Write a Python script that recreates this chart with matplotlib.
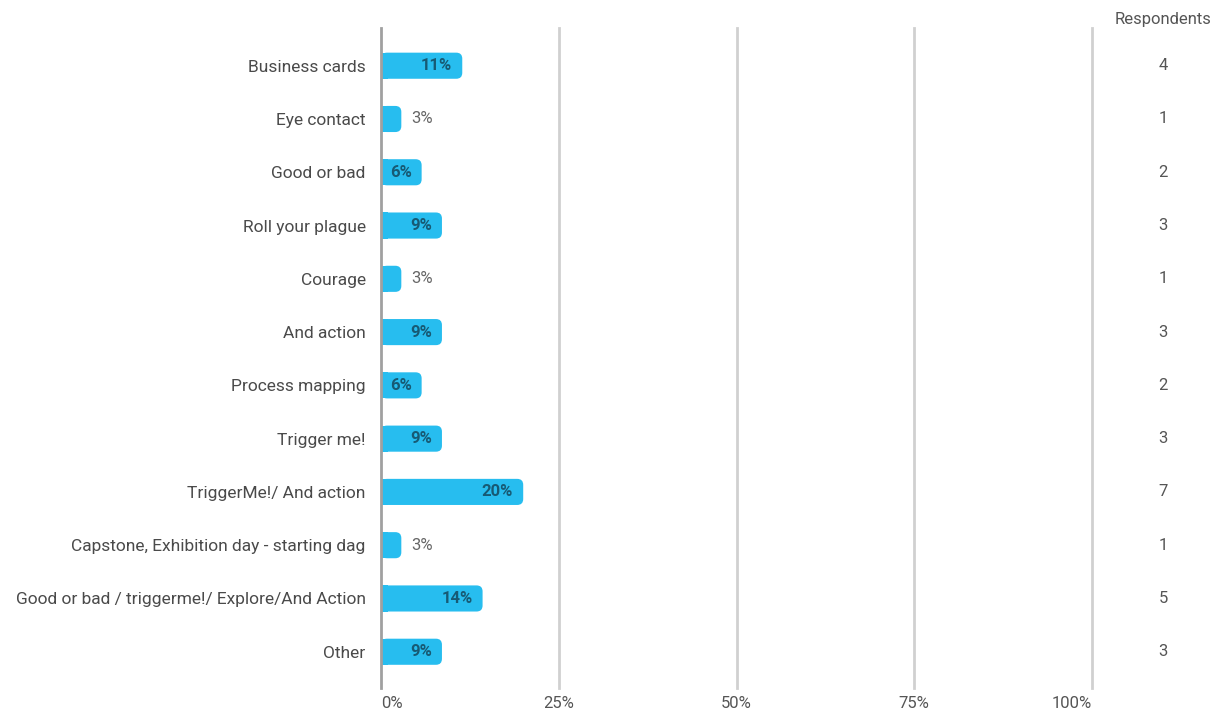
import matplotlib
matplotlib.use('Agg')
import matplotlib.pyplot as plt
from matplotlib.patches import FancyBboxPatch, Rectangle
from matplotlib.ticker import FuncFormatter

plt.rcParams['font.family'] = ['Roboto', 'DejaVu Sans']

# survey answers
categories = [
    'Business cards', 'Eye contact', 'Good or bad', 'Roll your plague',
    'Courage', 'And action', 'Process mapping', 'Trigger me!',
    'TriggerMe!/ And action', 'Capstone, Exhibition day - starting dag',
    'Good or bad / triggerme!/ Explore/And Action', 'Other',
]
respondents = [4, 1, 2, 3, 1, 3, 2, 3, 7, 1, 5, 3]
x_ticks = [0, 25, 50, 75, 100]

total = sum(respondents)
shares = [r / total * 100 for r in respondents]

BAR = '#27bdef'
fig = plt.figure(figsize=(12.2, 7.15), dpi=100)
ax = fig.add_axes([0.3123, 0.0378, 0.8951 - 0.3123, 0.961 - 0.0378])
ax.set_xlim(0, 100)
ax.set_ylim(11.68, -0.71)

# px -> data unit ratios for the rounded corners
px_x = 100 / (0.5828 * 1220)
px_y = 12.39 / (0.9232 * 715)
r = 6 * px_x
h = 0.49
col_x = 1.10  # respondents column, in axes fraction

for i, (s, n) in enumerate(zip(shares, respondents)):
    box = FancyBboxPatch((0, i - h / 2), s, h,
                         boxstyle=f'round,pad=0,rounding_size={r}',
                         mutation_aspect=(6 * px_y) / r,
                         facecolor=BAR, edgecolor='none', zorder=3)
    ax.add_patch(box)
    ax.add_patch(Rectangle((0, i - h / 2), min(s, r * 1.2), h,
                           facecolor=BAR, edgecolor='none', zorder=3))
    label = f'{s:.0f}%'
    if s > 5:
        ax.text(s - 10 * px_x, i, label, ha='right', va='center',
                fontsize=12, fontweight='bold', color='#175a74', zorder=4)
    else:
        ax.text(s + 10 * px_x, i, label, ha='left', va='center',
                fontsize=12, color='#666666', zorder=4)
    ax.text(col_x, i, str(n), transform=ax.get_yaxis_transform(),
            ha='center', va='center', fontsize=12, color='#555555')

ax.text(col_x, -0.86, 'Respondents', transform=ax.get_yaxis_transform(),
        ha='center', va='center', fontsize=12, color='#555555', clip_on=False)

for t in x_ticks[1:]:
    ax.axvline(t, color='#d0d0d0', linewidth=2, zorder=1, clip_on=False)
ax.axvline(0, color='#a0a0a0', linewidth=2, zorder=5, clip_on=False)

ax.set_yticks(range(len(categories)))
ax.set_yticklabels(categories, fontsize=12.5, color='#4a4a4a')
ax.set_xticks(x_ticks)
ax.xaxis.set_major_formatter(FuncFormatter(lambda v, p: f'{v:.0f}%'))
ax.tick_params(axis='both', length=0)
ax.tick_params(axis='y', pad=11)
ax.tick_params(axis='x', pad=6, labelsize=12, labelcolor='#555555')
xlabels = ax.get_xticklabels()
xlabels[0].set_ha('left')
xlabels[-1].set_ha('right')
for sp in ax.spines.values():
    sp.set_visible(False)

fig.savefig('out.png', dpi=100, facecolor='white')
